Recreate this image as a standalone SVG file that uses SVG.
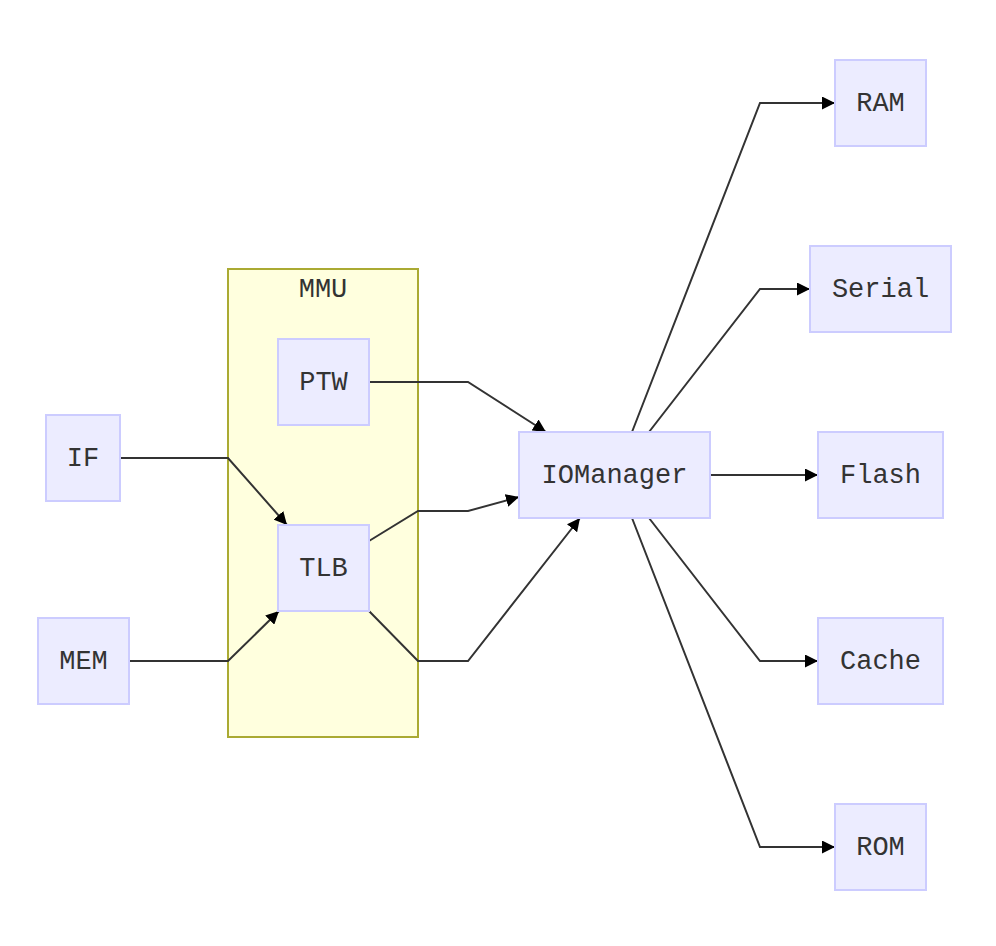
<svg xmlns="http://www.w3.org/2000/svg" width="996" height="946" viewBox="0 0 996 946">
<style>
.node rect{fill:#ececff;stroke:#ccccff;stroke-width:2}
.node text,.cluster text{font-family:"Liberation Mono","DejaVu Sans Mono",monospace;font-size:27px;fill:#333;text-anchor:middle;dominant-baseline:central}
.cluster rect{fill:#ffffde;stroke:#aaaa33;stroke-width:2}
.edges path{fill:none;stroke:#333;stroke-width:2}
</style>
<defs>
<marker id="arr" viewBox="0 0 10 10" refX="10" refY="5" markerWidth="6.5" markerHeight="6.5" markerUnits="strokeWidth" orient="auto">
<path d="M0,0L10,5L0,10z" fill="#000"/>
</marker>
</defs>
<rect width="996" height="946" fill="#fff"/>
<g id="MMU" class="cluster">
<rect x="228" y="269" width="190" height="468"/>
<text x="323" y="290">MMU</text>
</g>
<g class="edges">
<path d="M120,458H228L287,525" marker-end="url(#arr)"/>
<path d="M129,661H228L279,611" marker-end="url(#arr)"/>
<path d="M369,382H468L546,432" marker-end="url(#arr)"/>
<path d="M369,541L418,511H468L519,497" marker-end="url(#arr)"/>
<path d="M369,611L418,661H468L580,518" marker-end="url(#arr)"/>
<path d="M632,432L760,103H835" marker-end="url(#arr)"/>
<path d="M649,432L760,289H810" marker-end="url(#arr)"/>
<path d="M710,475H818" marker-end="url(#arr)"/>
<path d="M649,518L760,661H818" marker-end="url(#arr)"/>
<path d="M632,518L760,847H835" marker-end="url(#arr)"/>
</g>
<g id="PTW" class="node"><rect x="278" y="339" width="91" height="86"/><text x="323.5" y="383">PTW</text></g>
<g id="TLB" class="node"><rect x="278" y="525" width="91" height="86"/><text x="323.5" y="569">TLB</text></g>
<g id="IF" class="node"><rect x="46" y="415" width="74" height="86"/><text x="83" y="459">IF</text></g>
<g id="MEM" class="node"><rect x="38" y="618" width="91" height="86"/><text x="83.5" y="662">MEM</text></g>
<g id="IOManager" class="node"><rect x="519" y="432" width="191" height="86"/><text x="614.5" y="476">IOManager</text></g>
<g id="RAM" class="node"><rect x="835" y="60" width="91" height="86"/><text x="880.5" y="104">RAM</text></g>
<g id="Serial" class="node"><rect x="810" y="246" width="141" height="86"/><text x="880.5" y="290">Serial</text></g>
<g id="Flash" class="node"><rect x="818" y="432" width="125" height="86"/><text x="880.5" y="476">Flash</text></g>
<g id="Cache" class="node"><rect x="818" y="618" width="125" height="86"/><text x="880.5" y="662">Cache</text></g>
<g id="ROM" class="node"><rect x="835" y="804" width="91" height="86"/><text x="880.5" y="848">ROM</text></g>
</svg>
